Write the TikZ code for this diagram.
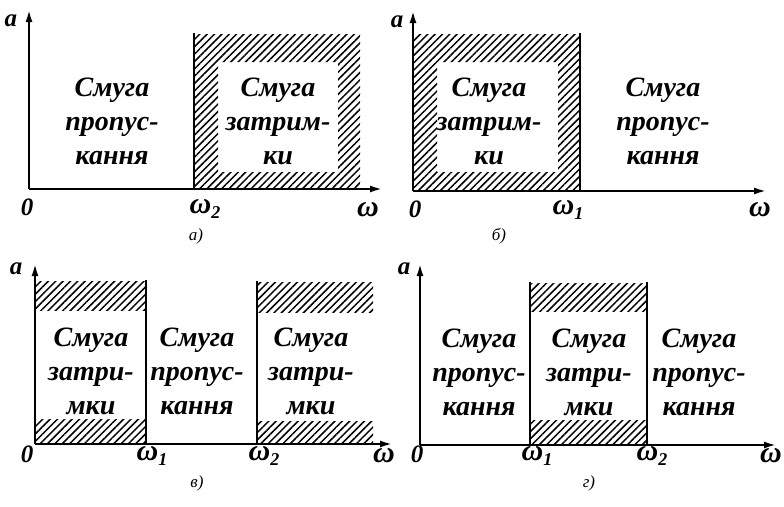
\documentclass[tikz,border=0pt]{standalone}
\usepackage{fontspec}
\setmainfont{Liberation Serif}
\usetikzlibrary{arrows.meta,patterns.meta}

\tikzset{
  band/.style={font=\fontsize{28}{34}\selectfont\bfseries\itshape, align=center},
  lbl/.style={font=\fontsize{25}{25}\selectfont\bfseries\itshape, inner sep=0pt},
  om/.style={font=\fontsize{30}{30}\selectfont\bfseries\itshape, inner sep=0pt},
  figlbl/.style={font=\fontsize{17}{17}\selectfont\itshape, inner sep=0pt},
  axis/.style={line width=2pt, -{Latex[length=12pt,width=7pt]}},
  bound/.style={line width=2.2pt},
  hatch/.style={pattern={Lines[angle=45,distance=5.2pt,line width=1.5pt]}}
}
\newcommand{\omsub}[1]{ω\raisebox{-5pt}{\fontsize{18}{18}\selectfont #1}}

\begin{document}
\begin{tikzpicture}[x=1pt,y=-1pt]
\useasboundingbox (0,0) rectangle (784,506);

% a) high-pass
\fill [hatch, even odd rule] (194,34) rectangle (360,189) (218,62) rectangle (338,172);
\coordinate (Oa) at (29,189);
\draw [axis] (Oa)--(29,10);
\draw [axis] (Oa)--(382,189);
\draw [bound] (194,33)--(194,189);
\draw (112,121)node[band] (passA) {Смуга\\пропус-\\кання};
\draw (278,121)node[band] (stopA) {Смуга\\затрим-\\ки};
\draw (11,21)node[lbl] (yA) {a};
\draw (27,207)node[lbl] (zeroA) {0};
\draw (205,209)node[om] (wA) {\omsub{2}};
\draw (368,210)node[om] (xA) {ω};
\draw (196,236)node[figlbl] (capA) {а)};

% b) low-pass
\fill [hatch, even odd rule] (413,34) rectangle (580,191) (437,62) rectangle (558,172);
\coordinate (Ob) at (413,191);
\draw [axis] (Ob)--(413,11);
\draw [axis] (Ob)--(766,191);
\draw [bound] (580,33)--(580,191);
\draw (489,121)node[band] (stopB) {Смуга\\затрим-\\ки};
\draw (663,121)node[band] (passB) {Смуга\\пропус-\\кання};
\draw (397,22)node[lbl] (yB) {a};
\draw (415,209)node[lbl] (zeroB) {0};
\draw (568,210)node[om] (wB) {\omsub{1}};
\draw (760,210)node[om] (xB) {ω};
\draw (499,236)node[figlbl] (capB) {б)};

% c) band-pass
\fill [hatch] (35,281) rectangle (146,310);
\fill [hatch] (35,419) rectangle (146,444);
\fill [hatch] (257,282) rectangle (373,312);
\fill [hatch] (257,421) rectangle (373,444);
\coordinate (Oc) at (35,444);
\draw [axis] (Oc)--(35,264);
\draw [axis] (Oc)--(392,444);
\draw [bound] (146,280)--(146,444);
\draw [bound] (257,281)--(257,444);
\draw (91,371)node[band] (stopC) {Смуга\\затри-\\мки};
\draw (197,371)node[band] (passC) {Смуга\\пропус-\\кання};
\draw (311,371)node[band] (stopCC) {Смуга\\затри-\\мки};
\draw (16,269)node[lbl] (yC) {a};
\draw (27,454)node[lbl] (zeroC) {0};
\draw (152,456)node[om] (w1C) {\omsub{1}};
\draw (264,456)node[om] (w2C) {\omsub{2}};
\draw (384,456)node[om] (xC) {ω};
\draw (197,483)node[figlbl] (capC) {в)};

% d) band-stop
\fill [hatch] (530,283) rectangle (647,311);
\fill [hatch] (530,420) rectangle (647,445);
\coordinate (Od) at (420,445);
\draw [axis] (Od)--(420,264);
\draw [axis] (Od)--(776,445);
\draw [bound] (530,282)--(530,445);
\draw [bound] (647,282)--(647,445);
\draw (479,372)node[band] (passD) {Смуга\\пропус-\\кання};
\draw (589,372)node[band] (stopD) {Смуга\\затри-\\мки};
\draw (699,372)node[band] (passDD) {Смуга\\пропус-\\кання};
\draw (404,269)node[lbl] (yD) {a};
\draw (417,454)node[lbl] (zeroD) {0};
\draw (537,456)node[om] (w1D) {\omsub{1}};
\draw (652,456)node[om] (w2D) {\omsub{2}};
\draw (771,456)node[om] (xD) {ω};
\draw (589,483)node[figlbl] (capD) {г)};
\end{tikzpicture}
\end{document}
